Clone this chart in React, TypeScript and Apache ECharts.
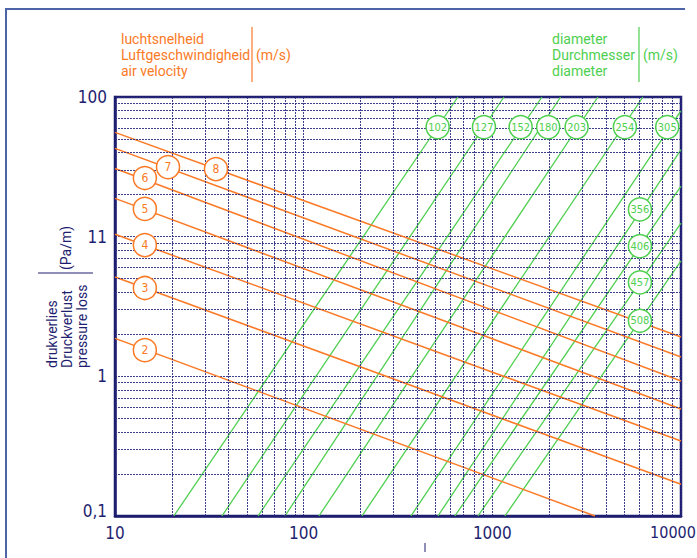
import React, { useEffect, useRef } from 'react';
import * as echarts from 'echarts';

// ---- axis ticks ----
const xTicks = [10, 100, 1000, 10000];
const xTickLabels = ['10', '100', '1000', '10000'];
const yTicks = [0.1, 1, 10, 100];
const yTickLabels = ['0,1', '1', '11', '100'];
const xMinorGrid = [20, 30, 40, 50, 60, 70, 80, 90, 200, 300, 400, 500, 600, 700, 800, 900, 2000, 3000, 4000, 5000, 6000, 7000, 8000, 9000];
const yMinorGrid = [0.2, 0.3, 0.4, 0.5, 0.6, 0.7, 0.8, 0.9, 2, 3, 4, 5, 6, 7, 8, 9, 20, 30, 40, 50, 60, 70, 80, 90];

// ---- air velocity lines (m/s) ----
const velocities = ['2', '3', '4', '5', '6', '7', '8'];
const velStart = [[10, 1.87], [10, 5.14], [10, 10.4], [10, 18.8], [10, 30.8], [10, 42.9], [10, 55.8]];
const velEnd = [[3500, 0.1], [10000, 0.169], [10000, 0.344], [10000, 0.583], [10000, 0.925], [10000, 1.374], [10000, 1.911]];
const velLabelPos = [[14.4, 1.54], [14.4, 4.29], [14.4, 8.71], [14.4, 15.8], [14.4, 26.3], [19.1, 31.5], [34.3, 30.5]];

// ---- diameter lines ----
const diameters = ['102', '127', '152', '180', '203', '254', '305', '356', '406', '457', '508'];
const diaStart = [[20.5, 0.1], [36.9, 0.1], [57.3, 0.1], [79.6, 0.1], [120.5, 0.1], [203.7, 0.1], [370.5, 0.1], [515, 0.1], [633, 0.1], [839, 0.1], [1166, 0.1]];
const diaEnd = [[657, 100], [1152, 100], [1832, 100], [2300, 100], [3627, 100], [6281, 100], [10000, 80], [10000, 42], [10000, 23], [10000, 12.5], [10000, 6.7]];
const diaLabelPos = [[513, 60.9], [903, 60.9], [1413, 60.9], [1977, 60.9], [2797, 60.9], [5043, 60.9], [8453, 60.9], [6058, 15.68], [6058, 8.56], [6058, 4.71], [6058, 2.5]];

const NAVY = '#1e1e70';
const GRID = '#2a2a80';
const ORANGE = '#fb7a26';
const GREEN = '#4fcf4f';
const FRAME = '#4d64a8';
const NARROW = "'Liberation Sans Narrow', 'DejaVu Sans Condensed', 'Roboto Condensed', Roboto, sans-serif";
const TFONT = "Roboto, 'Noto Sans', sans-serif";

export default function App() {
  const ref = useRef<HTMLDivElement>(null);
  useEffect(() => {
    const chart = echarts.init(ref.current!, null, { renderer: 'svg' });
    const series: any[] = [];
    series.push({
      type: 'line',
      data: [[10, 0.1]],
      symbol: 'none',
      lineStyle: { opacity: 0 },
      silent: true,
      markLine: {
        silent: true,
        symbol: 'none',
        label: { show: false },
        lineStyle: { color: GRID, type: [2, 1], width: 1, opacity: 0.9 },
        data: [
          ...xMinorGrid.map((v) => ({ xAxis: v })),
          ...yMinorGrid.map((v) => ({ yAxis: v })),
        ],
      },
    });
    diameters.forEach((d, i) => {
      series.push({
        type: 'line',
        name: 'd' + d,
        data: [diaStart[i], diaEnd[i]],
        symbol: 'none',
        z: 3,
        lineStyle: { color: GREEN, width: 1.3 },
      });
    });
    velocities.forEach((v, i) => {
      series.push({
        type: 'line',
        name: 'v' + v,
        data: [velStart[i], velEnd[i]],
        symbol: 'none',
        z: 4,
        lineStyle: { color: ORANGE, width: 1.5 },
      });
    });
    series.push({
      type: 'scatter',
      z: 6,
      symbol: 'circle',
      symbolSize: 23,
      itemStyle: { color: '#ffffff', borderColor: GREEN, borderWidth: 1.5, opacity: 1 },
      label: { show: true, position: 'inside', formatter: '{b}', color: GREEN, fontSize: 11, fontFamily: NARROW },
      data: diameters.map((d, i) => ({ name: d, value: diaLabelPos[i] })),
    });
    series.push({
      type: 'scatter',
      z: 6,
      symbol: 'circle',
      symbolSize: 23,
      itemStyle: { color: '#ffffff', borderColor: ORANGE, borderWidth: 1.5, opacity: 1 },
      label: { show: true, position: 'inside', formatter: '{b}', color: ORANGE, fontSize: 12, fontFamily: NARROW },
      data: velocities.map((v, i) => ({ name: v, value: velLabelPos[i] })),
    });

    const option: any = {
      animation: false,
      backgroundColor: '#ffffff',
      grid: { left: 115, top: 97, right: 16, bottom: 42, show: true, borderColor: NAVY, borderWidth: 2.5, backgroundColor: 'transparent', outerBoundsMode: 'none', containLabel: false },
      xAxis: {
        type: 'log',
        logBase: 10,
        min: 10,
        max: 10000,
        axisLine: { show: true, lineStyle: { color: NAVY, width: 2.5 } },
        axisTick: { show: false },
        axisLabel: {
          color: NAVY,
          fontSize: 17,
          fontFamily: NARROW,
          margin: 8,
          rich: {
            last: { color: NAVY, fontSize: 16, fontFamily: NARROW, padding: [0, 16, 0, 0] },
          },
          formatter: (v: number) => {
            const k = xTicks.findIndex((t) => Math.abs(t - v) / t < 1e-6);
            if (k < 0) return '';
            return k === xTicks.length - 1 ? '{last|' + xTickLabels[k] + '}' : xTickLabels[k];
          },
        },
        splitLine: { show: true, lineStyle: { color: GRID, type: [2, 1], width: 1, opacity: 0.9 } },
      },
      yAxis: {
        type: 'log',
        logBase: 10,
        min: 0.1,
        max: 100,
        axisLine: { show: true, lineStyle: { color: NAVY, width: 2.5 } },
        axisTick: { show: false },
        axisLabel: {
          color: NAVY,
          fontSize: 17,
          fontFamily: NARROW,
          margin: 8,
          rich: {
            low: { color: NAVY, fontSize: 17, fontFamily: NARROW, padding: [0, 0, 10, 0] },
          },
          formatter: (v: number) => {
            const k = yTicks.findIndex((t) => Math.abs(t - v) / t < 1e-6);
            if (k < 0) return '';
            return k === 0 ? '{low|' + yTickLabels[k] + '}' : yTickLabels[k];
          },
        },
        splitLine: { show: true, lineStyle: { color: GRID, type: [2, 1], width: 1, opacity: 0.9 } },
      },
      series,
      graphic: [
        { type: 'line', shape: { x1: 6, y1: 9, x2: 6, y2: 560 }, style: { stroke: FRAME, lineWidth: 2 } },
        { type: 'line', shape: { x1: 5, y1: 9, x2: 685, y2: 9 }, style: { stroke: FRAME, lineWidth: 2 } },
        {
          type: 'text', left: 121, top: 31,
          style: { text: 'luchtsnelheid\nLuftgeschwindigheid\nair velocity', fill: ORANGE, font: '14px ' + TFONT, lineHeight: 16 },
        },
        { type: 'line', shape: { x1: 252, y1: 27, x2: 252, y2: 82 }, style: { stroke: ORANGE, lineWidth: 1.2 } },
        { type: 'text', left: 256, top: 47, style: { text: '(m/s)', fill: ORANGE, font: '14px ' + TFONT, lineHeight: 16 } },
        {
          type: 'text', left: 552, top: 31,
          style: { text: 'diameter\nDurchmesser\ndiameter', fill: GREEN, font: '14px ' + TFONT, lineHeight: 16 },
        },
        { type: 'line', shape: { x1: 639, y1: 27, x2: 639, y2: 82 }, style: { stroke: GREEN, lineWidth: 1.2 } },
        { type: 'text', left: 643, top: 47, style: { text: '(m/s)', fill: GREEN, font: '14px ' + TFONT, lineHeight: 16 } },
        {
          type: 'group', x: 44, y: 368, rotation: Math.PI / 2,
          children: [
            { type: 'text', style: { x: 0, y: 0, text: 'drukverlies\nDruckverlust\npressure loss', fill: NAVY, font: '14px ' + TFONT, lineHeight: 15, align: 'left', verticalAlign: 'top' } },
          ],
        },
        {
          type: 'group', x: 59, y: 270, rotation: Math.PI / 2,
          children: [
            { type: 'text', style: { x: 0, y: 0, text: '(Pa/m)', fill: NAVY, font: '14px ' + TFONT, align: 'left', verticalAlign: 'top' } },
          ],
        },
        { type: 'line', shape: { x1: 38, y1: 273, x2: 93, y2: 273 }, style: { stroke: NAVY, lineWidth: 1.2 } },
        { type: 'line', shape: { x1: 425, y1: 543, x2: 425, y2: 552 }, style: { stroke: NAVY, lineWidth: 1 } },
      ],
    };
    chart.setOption(option);
    return () => chart.dispose();
  }, []);
  return <div ref={ref} style={{ position: 'fixed', left: 0, top: 0, width: 697, height: 558, background: '#fff' }} />;
}
